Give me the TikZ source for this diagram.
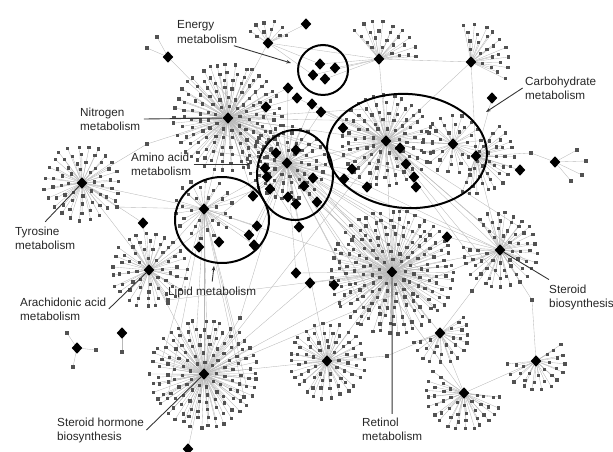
\documentclass[tikz,border=0pt]{standalone}
\usepackage{fontspec}
\setmainfont{Liberation Sans}
\usetikzlibrary{shapes.geometric, calc, arrows.meta}

% stars of reactions: name/x/y/outer radius/from angle/to angle/spacing
\newcommand*{\starlist}{nit/228/118/58/0/360/9, tyr/82/183/42/0/360/10,
 ara/149/270/37/0/360/10, sth/204/374/58/0/360/9, ret/392/272/61/0/360/9,
 stb/500/250/41/-150/170/9, hubA/327/361/38/0/360/9, hubB/440/333/36/-60/150/9,
 hubC/536/361/31/-60/160/9, hubD/464/393/40/-20/200/9, topA/379/59/37/200/340/10,
 topB/471/62/37/230/370/10, ene/268/43/21/180/330/9, carb/386/141/45/0/360/9.5,
 carbR/476/156/37/-80/100/9, side/453/144/29/0/360/11, amino/287/163/37/0/360/9,
 lip/204/209/29/0/360/13}

% lone hubs and single reactions
\newcommand*{\hublist}{k1/343/128, k2/400/148, k3/406/164, k4/352/169, k5/344/179,
 k6/414/177, k7/416/187, k8/367/187, k9/492/98, k10/520/170, k11/312/104, k12/321/112,
 m1/276/153, m2/296/150, m3/265/168, m4/267/177, m5/270/189, m6/313/178, m7/304/186,
 m8/288/197, m9/296/204, m10/317/202, m11/253/196, m12/299/227,
 p1/257/226, p2/249/235, p3/219/242, p4/199/247, p5/254/245,
 e1/320/64, e2/335/68, e3/313/75, e4/325/79, ss/555/162,
 x1/306/24, x2/288/88, x3/297/98, x4/266/107, x5/296/273, x6/310/283, x7/334/285,
 x8/447/237, x9/143/223, x10/168/57, x11/122/333, x12/77/348, x13/188/449}
\newcommand*{\leaflist}{q1/147/144, q2/117/207, q3/387/356, q4/472/291, q5/532/300,
 q6/352/240, q7/168/300, q8/240/318, ss1/577/150, ss2/586/161, ss3/582/175,
 ss4/571/181, ss5/531/153, xa/67/333, xb/73/367, xc/96/350, xd/122/352,
 xe/147/48, xf/157/37}

\begin{document}
\begin{tikzpicture}[x=0.03cm, y=-0.03cm,
 hub/.style={diamond, fill=black, inner sep=0pt, minimum width=0.32cm, minimum height=0.35cm},
 leaf/.style={rectangle, fill=black!68, inner sep=0pt, minimum size=0.1cm},
 edge/.style={draw=black!28, line width=0.3pt},
 ring/.style={draw=black, line width=1.7pt},
 pointer/.style={draw=black!80, line width=0.75pt},
 lbl/.style={inner sep=0pt, anchor=west, align=left, text=black!85, font=\fontsize{10}{12}\selectfont}]
 \useasboundingbox (0,0) rectangle (613,452);
 \pgfmathsetseed{4}

 % rays of every star
 \foreach \nm/\hx/\hy/\rmax/\af/\at/\sp in \starlist {
  \coordinate (\nm) at (\hx,\hy);
  \foreach \rad [count=\k] in {13,21,...,\rmax} {
   \pgfmathtruncatemacro{\nleaf}{max(1,round(3.1416*\rad/\sp*((\at-\af)/180)))}
   \foreach \i in {1,...,\nleaf} {
    \pgfmathsetmacro{\ang}{\af+((\at-\af)/\nleaf)*(\i-0.5+0.37*\k)+3*rand}
    \pgfmathsetmacro{\dist}{\rad+1.5*rand}
    \coordinate (\nm-\k-\i) at ($(\nm)+(\ang:\dist)$);
    \draw[edge] (\nm) -- (\nm-\k-\i);
   }
  }
 }
 \foreach \nm/\hx/\hy in \hublist \coordinate (\nm) at (\hx,\hy);
 \foreach \nm/\hx/\hy in \leaflist \coordinate (\nm) at (\hx,\hy);

 % links between stars
 \foreach \d in {k1,k2,k3,k4,k5,k6,k7,k8,k11,k12} \draw[edge] (\d) -- (carb);
 \foreach \d in {k4,k5,k8,k11,k12} \draw[edge] (\d) -- (amino);
 \foreach \d in {k9,k10} \draw[edge] (\d) -- (carbR);
 \foreach \d in {m1,m2,m3,m4,m5,m6,m7,m8,m9,m10,m11,m12} \draw[edge] (\d) -- (amino);
 \foreach \d in {m3,m5,m11,m12} \draw[edge] (\d) -- (nit);
 \foreach \d in {m6,m10} \draw[edge] (\d) -- (ret);
 \foreach \d in {p1,p2,p3,p4,p5} \draw[edge] (\d) -- (lip);
 \foreach \d in {p1,p2,p5} \draw[edge] (\d) -- (amino);
 \foreach \d in {e1,e2,e3,e4} \draw[edge] (\d) -- (topA);
 \foreach \d in {e1,e3} \draw[edge] (\d) -- (ene);
 \foreach \d in {ss1,ss2,ss3,ss4,ss5} \draw[edge] (\d) -- (ss);
 \foreach \d in {xa,xb,xc} \draw[edge] (\d) -- (x12);
 \foreach \d in {xe,xf} \draw[edge] (\d) -- (x10);
 \foreach \a/\b in {xd/x11, x1/ene, x2/nit, x3/nit, x2/amino, x3/carb, x4/nit, x5/amino,
   x5/ret, x6/ret, x7/ret, x6/sth, x8/ret, x8/stb, x9/tyr, x9/ara, x13/sth, x10/nit,
   nit/amino, nit/lip, nit/carb, nit/ene, nit/q1, q1/tyr, tyr/q2, q2/lip, tyr/ara,
   ara/lip, ara/sth, ara/amino, ara/q7, q7/ret, lip/ret, lip/sth, lip/amino, lip/carb,
   amino/carb, amino/ret, amino/hubA, amino/stb, carb/ret, carb/stb, carb/topA,
   carb/topB, carb/side, side/carbR, carbR/stb, carbR/topB, ss5/carbR, topA/ene,
   topA/topB, ret/stb, ret/hubA, ret/hubB, ret/sth, sth/hubA, sth/q8, q8/amino,
   sth/carb, sth/stb, hubA/q3, q3/hubB, hubB/hubD, hubC/hubD, stb/q5, q5/hubC,
   stb/q4, q4/hubB, ret/q6, q6/hubD, nit/stb, nit/ret, tyr/lip}
  \draw[edge] (\a) -- (\b);
 \foreach \i in {1,4,...,31} \draw[edge] (ret-5-\i) -- (amino);
 \foreach \i in {3,9,...,21} \draw[edge] (carb-4-\i) -- (nit);
 \foreach \i in {2,7,...,22} \draw[edge] (nit-4-\i) -- (amino);
 \foreach \i in {1,6,...,31} \draw[edge] (sth-5-\i) -- (lip);
 \foreach \i in {1,5,...,17} \draw[edge] (stb-3-\i) -- (carb);

 % compounds
 \foreach \nm/\hx/\hy/\rmax/\af/\at/\sp in \starlist {
  \foreach \rad [count=\k] in {13,21,...,\rmax} {
   \pgfmathtruncatemacro{\nleaf}{max(1,round(3.1416*\rad/\sp*((\at-\af)/180)))}
   \foreach \i in {1,...,\nleaf} \node[leaf] (sq-\nm-\k-\i) at (\nm-\k-\i) {};
  }
 }
 \foreach \nm/\hx/\hy in \leaflist \node[leaf] (sq-\nm) at (\nm) {};
 \foreach \nm/\hx/\hy/\rmax/\af/\at/\sp in \starlist \node[hub] (hub-\nm) at (\nm) {};
 \foreach \nm/\hx/\hy in \hublist \node[hub] (hub-\nm) at (\nm) {};

 % pathway circles
 \draw[ring] (407,151) ellipse [x radius=80, y radius=57, rotate=-4];
 \draw[ring] (295,175) ellipse [x radius=38, y radius=45];
 \draw[ring] (222,220) ellipse [x radius=47, y radius=43];
 \draw[ring] (323,70) circle [radius=25];

 % labels
 \node[lbl] (lEnergy) at (177,32) {Energy\\metabolism};
 \node[lbl] (lCarb) at (525,88) {Carbohydrate\\metabolism};
 \node[lbl] (lNitro) at (80,119) {Nitrogen\\metabolism};
 \node[lbl] (lAmino) at (131,164) {Amino acid\\metabolism};
 \node[lbl] (lTyr) at (15,238) {Tyrosine\\metabolism};
 \node[lbl] (lLipid) at (168,292) {Lipid metabolism};
 \node[lbl] (lArach) at (20,309) {Arachidonic acid\\metabolism};
 \node[lbl] (lSthorm) at (57,430) {Steroid hormone\\biosynthesis};
 \node[lbl] (lRet) at (362,429) {Retinol\\metabolism};
 \node[lbl] (lStb) at (549,297) {Steroid\\biosynthesis};

 \coordinate (ptEnergy) at (291,63);
 \coordinate (ptCarb) at (486,112);
 \coordinate (ptAmino) at (251,164);
 \coordinate (ptLipid) at (214,266);

 \draw[pointer, -{Stealth[length=4pt, width=3pt]}] ([xshift=-3pt, yshift=-2pt]lEnergy.south east) -- (ptEnergy);
 \draw[pointer, -{Stealth[length=4pt, width=3pt]}] ([xshift=-2pt]lCarb.west) -- (ptCarb);
 \draw[pointer] ([xshift=3pt]lNitro.east) -- (hub-nit);
 \draw[pointer, -{Stealth[length=4pt, width=3pt]}] ([xshift=2pt]lAmino.east) -- (ptAmino);
 \draw[pointer] ([yshift=4pt]lTyr.north) -- (hub-tyr);
 \draw[pointer, -{Stealth[length=4pt, width=3pt]}] ([yshift=4pt]lLipid.north) -- (ptLipid);
 \draw[pointer] ([xshift=2pt]lArach.east) -- (hub-ara);
 \draw[pointer] ([xshift=2pt]lSthorm.east) -- (hub-sth);
 \draw[pointer] ([yshift=3pt]lRet.north) -- (hub-ret);
 \draw[pointer] ([yshift=4pt]lStb.north west) -- (hub-stb);
\end{tikzpicture}
\end{document}
